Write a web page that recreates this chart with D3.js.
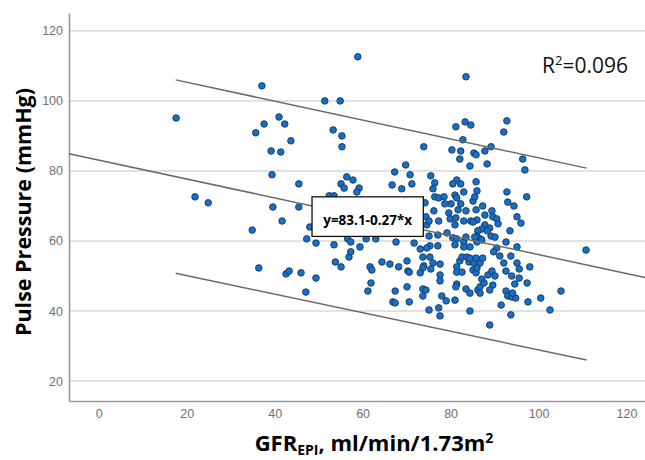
<!DOCTYPE html>
<html>
<head>
<meta charset="utf-8">
<script src="https://cdn.jsdelivr.net/npm/d3@7"></script>
<style>
    body { margin: 0; background: #fff; }
    svg { display: block; }
</style>
</head>
<body>
<svg id="chart" width="645" height="460"></svg>
<script>
// values
const gfr = [
    17.6, 37.1, 35.7, 37.6, 41.0, 42.3, 43.7, 39.2, 41.4, 39.4, 45.5, 21.9, 24.9, 39.6, 45.5, 41.7, 34.9, 48.0, 47.3, 49.4,
    36.4, 42.6, 43.3, 46.0, 49.4, 47.1, 51.4, 54.9, 53.3, 55.3, 55.3, 58.9, 83.5, 81.2, 83.3, 84.6, 92.8, 92.1, 82.8, 73.9,
    80.3, 82.3, 85.3, 85.8, 87.8, 89.2, 82.1, 84.4, 88.3, 96.4, 96.9, 69.8, 67.3, 70.8, 75.5, 56.4, 57.8, 55.1, 55.8, 59.2,
    58.7, 66.7, 68.9, 71.2, 76.4, 76.0, 81.4, 80.5, 82.3, 85.8, 86.0, 92.8, 93.0, 94.4, 97.3, 76.4, 77.3, 78.5, 81.0, 83.0,
    81.4, 85.1, 85.5, 80.1, 78.7, 82.3, 87.3, 85.8, 74.2, 76.2, 83.5, 87.8, 89.4, 89.6, 90.5, 90.8, 95.1, 96.0, 79.6, 81.7,
    52.4, 53.5, 52.1, 74.4, 74.6, 75.1, 77.3, 79.9, 81.2, 81.0, 83.0, 84.6, 86.0, 85.1, 87.8, 88.9, 87.1, 86.2, 88.3, 89.2,
    90.1, 93.5, 86.0, 86.7, 86.0, 87.1, 92.6, 95.1, 90.5, 110.8, 75.1, 77.1, 75.3, 77.1, 79.2, 80.5, 81.4, 83.0, 84.4, 83.5,
    85.5, 60.8, 63.0, 67.6, 71.7, 73.1, 74.6, 56.6, 57.3, 59.4, 53.5, 53.8, 55.1, 56.9, 57.3, 61.7, 62.1, 61.9, 61.2, 64.4,
    66.2, 68.2, 66.9, 67.4, 67.4, 70.1, 70.3, 70.6, 70.1, 70.6, 73.7, 73.9, 73.7, 75.3, 76.0, 77.6, 75.5, 73.1, 77.6, 77.6,
    73.7, 74.4, 73.7, 78.0, 79.0, 75.1, 77.3, 77.6, 81.0, 81.4, 81.2, 83.5, 84.4, 84.4, 86.2, 86.7, 86.7, 88.9, 91.5, 93.7,
    92.6, 93.0, 93.9, 94.8, 94.1, 97.6, 100.5, 102.6, 105.1, 97.4, 95.6, 94.6, 93.9, 92.6, 92.1, 95.1, 95.6, 93.7, 98.0, 89.8,
    91.2, 88.5, 89.4, 90.1, 89.6, 88.9, 87.1, 87.6, 81.4, 82.1, 81.4, 82.6, 83.7, 83.0, 82.6, 84.2, 85.3, 85.1, 85.8, 86.7,
    86.0, 84.4, 85.8, 87.3, 81.0
];
const pulsePressure = [
    95.1, 104.3, 90.9, 93.4, 95.4, 93.4, 88.6, 85.7, 85.4, 78.9, 76.3, 72.6, 70.9, 69.7, 69.7, 65.7, 63.1, 64.0, 60.6, 59.4,
    52.3, 50.6, 51.4, 50.9, 49.4, 45.4, 100.0, 100.0, 91.7, 90.0, 86.9, 112.6, 106.9, 92.6, 94.0, 93.1, 94.3, 91.1, 88.9, 86.9,
    86.0, 85.7, 85.1, 84.6, 85.7, 86.9, 83.4, 81.4, 82.0, 83.4, 80.3, 81.7, 79.7, 78.9, 78.6, 78.3, 77.4, 76.3, 75.1, 75.1,
    74.0, 76.0, 74.9, 76.3, 76.6, 74.9, 77.4, 76.3, 76.3, 76.9, 74.3, 74.0, 71.1, 70.0, 72.6, 72.6, 72.3, 72.6, 73.1, 74.0,
    72.3, 71.4, 72.6, 70.6, 70.6, 70.6, 70.0, 68.9, 70.9, 68.6, 68.6, 67.4, 68.6, 66.9, 66.3, 64.9, 66.9, 65.1, 68.0, 68.9,
    72.9, 72.9, 71.7, 66.9, 64.6, 65.7, 65.7, 66.3, 66.6, 64.6, 65.7, 65.7, 66.0, 65.4, 64.6, 63.7, 63.4, 62.9, 62.9, 61.4,
    61.1, 62.9, 61.4, 60.6, 59.7, 60.3, 59.7, 58.3, 58.0, 57.4, 61.4, 61.7, 58.6, 58.6, 62.3, 60.9, 60.6, 59.7, 58.3, 61.1,
    61.1, 60.6, 60.6, 59.7, 59.4, 57.7, 58.0, 60.6, 59.7, 58.3, 58.9, 54.0, 52.6, 55.4, 56.9, 52.6, 51.7, 48.0, 45.7, 54.0,
    53.4, 52.6, 42.6, 42.3, 45.7, 54.3, 51.4, 51.1, 46.9, 42.6, 55.4, 52.9, 52.3, 55.4, 53.7, 53.4, 52.0, 50.9, 50.3, 48.6,
    46.3, 46.0, 44.3, 44.3, 42.9, 40.3, 40.9, 38.6, 43.1, 47.7, 46.9, 46.3, 45.1, 40.0, 46.0, 46.9, 45.1, 36.0, 41.7, 38.9,
    45.7, 44.3, 44.0, 43.7, 45.1, 42.6, 43.7, 40.3, 45.7, 48.0, 49.4, 47.7, 50.0, 51.4, 53.7, 53.7, 52.0, 55.7, 52.6, 56.9,
    55.7, 50.3, 51.4, 50.0, 47.4, 46.0, 49.1, 48.0, 52.6, 54.3, 51.1, 55.4, 55.4, 58.3, 51.1, 54.0, 53.7, 51.7, 50.9, 53.7,
    52.3, 55.1, 55.1, 55.1, 58.9
];
const xTicks = [0, 20, 40, 60, 80, 100, 120];
const yTicks = [20, 40, 60, 80, 100, 120];
const fitIntercept = 83.1;
const fitSlope = -0.27;
const upperBand = [[17.5, 106.0], [110.9, 80.8]];
const lowerBand = [[17.5, 50.8], [110.9, 26.0]];
const rSquared = '0.096';

const svg = d3.select('#chart');
const width = 645;
const margin = { top: 13, right: 0, bottom: 59, left: 69 };
const plotBottom = 460 - margin.bottom;

const x = d3.scaleLinear().domain([-6.75, 124.2]).range([margin.left, width - margin.right]);
const y = d3.scaleLinear().domain([14.3, 125.1]).range([plotBottom, margin.top]);

// gridlines
svg.append('g')
    .selectAll('line')
    .data(yTicks)
    .enter().append('line')
    .attr('x1', margin.left)
    .attr('x2', width)
    .attr('y1', d => y(d))
    .attr('y2', d => y(d))
    .attr('stroke', '#d9d9d9')
    .attr('stroke-width', 1.5);

const yAxis = svg.append('g')
    .attr('transform', `translate(${margin.left},0)`)
    .call(d3.axisLeft(y).tickValues(yTicks).tickSize(0).tickSizeOuter(0).tickPadding(6));
const xAxis = svg.append('g')
    .attr('transform', `translate(0,${plotBottom})`)
    .call(d3.axisBottom(x).tickValues(xTicks).tickSize(0).tickSizeOuter(0).tickPadding(8));

[yAxis, xAxis].forEach(a => {
    a.select('.domain').attr('stroke', '#9a9a9a').attr('stroke-width', 1.6);
    a.selectAll('text')
        .attr('fill', '#707070')
        .style('font-family', '"Liberation Sans", Arial, sans-serif')
        .style('font-size', '12.5px');
});

// points
svg.append('g')
    .selectAll('circle')
    .data(gfr.map((g, i) => [g, pulsePressure[i]]))
    .enter().append('circle')
    .attr('cx', d => x(d[0]))
    .attr('cy', d => y(d[1]))
    .attr('r', 3.3)
    .attr('fill', '#1570cc')
    .attr('stroke', '#1d3552')
    .attr('stroke-width', 0.9);

// fit line and prediction band
const line = d3.line().x(d => x(d[0])).y(d => y(d[1]));
const xDom = x.domain();
const fitLine = xDom.map(v => [v, fitIntercept + fitSlope * v]);
[fitLine, upperBand, lowerBand].forEach(pts => {
    svg.append('path')
        .attr('d', line(pts))
        .attr('fill', 'none')
        .attr('stroke', '#6a6a6a')
        .attr('stroke-width', 1.5);
});

// equation label
const eqBox = { x0: 48.5, y0: 72.6, x1: 73.8, y1: 61.3 };
svg.append('rect')
    .attr('x', x(eqBox.x0))
    .attr('y', y(eqBox.y0))
    .attr('width', x(eqBox.x1) - x(eqBox.x0))
    .attr('height', y(eqBox.y1) - y(eqBox.y0))
    .attr('fill', '#fff')
    .attr('stroke', '#111')
    .attr('stroke-width', 1.3);
svg.append('text')
    .attr('x', (x(eqBox.x0) + x(eqBox.x1)) / 2)
    .attr('y', y(eqBox.y1) - 11)
    .attr('text-anchor', 'middle')
    .style('font-family', '"Open Sans", sans-serif')
    .style('font-weight', 'bold')
    .style('font-size', '13.5px')
    .text(`y=${fitIntercept}${fitSlope}*x`);

// R squared
const r2 = svg.append('text')
    .attr('x', 542)
    .attr('y', 73)
    .style('font-family', '"Open Sans", sans-serif')
    .style('font-size', '21px')
    .attr('fill', '#111');
r2.append('tspan').text('R');
r2.append('tspan').attr('dy', -8).style('font-size', '13px').text('2');
r2.append('tspan').attr('dy', 8).text('=' + rSquared);

// axis titles
svg.append('text')
    .attr('transform', 'translate(31,212) rotate(-90)')
    .attr('text-anchor', 'middle')
    .style('font-family', '"Open Sans", sans-serif')
    .style('font-weight', 'bold')
    .style('font-size', '21.5px')
    .text('Pulse Pressure (mmHg)');

const xt = svg.append('text')
    .attr('x', 374)
    .attr('y', 451)
    .attr('text-anchor', 'middle')
    .style('font-family', '"Open Sans", sans-serif')
    .style('font-weight', 'bold')
    .style('font-size', '22px');
xt.append('tspan').text('GFR');
xt.append('tspan').attr('dy', 4).style('font-size', '14px').text('EPI');
xt.append('tspan').attr('dy', -4).text(', ml/min/1.73m');
xt.append('tspan').attr('dy', -8).style('font-size', '14px').text('2');
</script>
</body>
</html>
